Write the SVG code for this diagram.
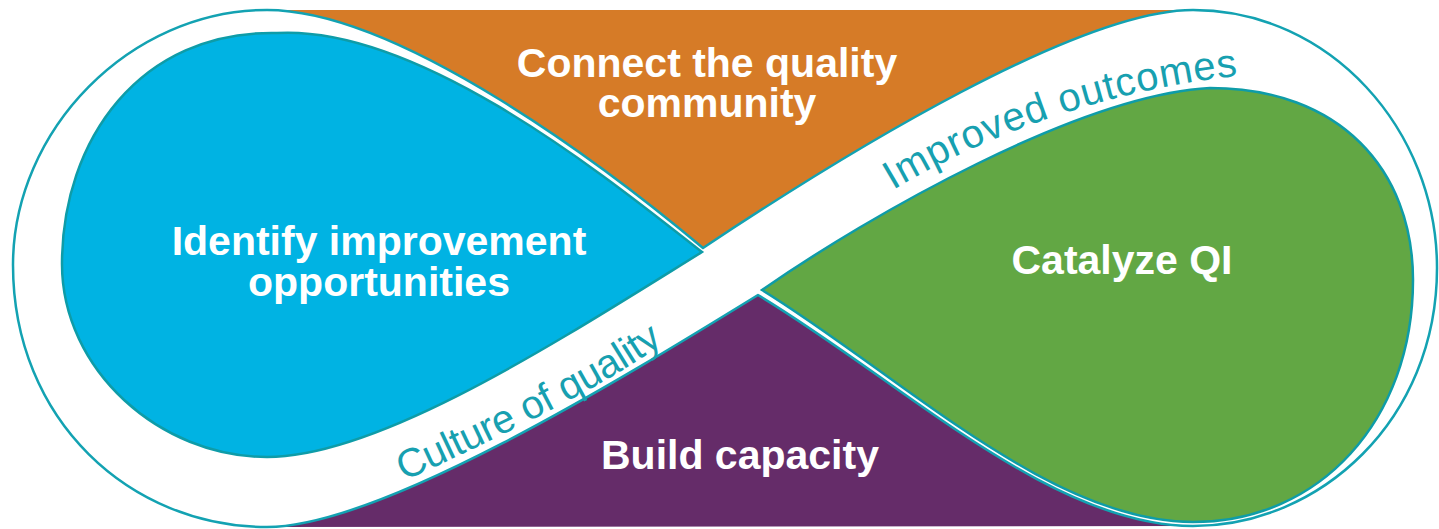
<svg xmlns="http://www.w3.org/2000/svg" width="1439" height="529" viewBox="0 0 1439 529">
<defs>
<style>
.lbl{font-family:"Liberation Sans",Arial,sans-serif;font-weight:bold;font-size:41px;fill:#ffffff;text-anchor:middle}
.rib{font-family:"Liberation Sans",Arial,sans-serif;font-weight:normal;font-size:40px;fill:#17A0B0}
.edge{fill:none;stroke:#13A2B2;stroke-width:2.5;stroke-linejoin:round}
.blob{stroke:#0E9CA8;stroke-width:2.5}
</style>
<path id="pathImproved" d="M 893,190 C 980,138 1110,86 1258,74"/>
<path id="pathCulture" d="M 404,481 C 480,446 600,391 672,337"/>
</defs>
<rect width="1439" height="529" fill="#ffffff"/>
<g id="connect">
<path d="M 703,248 C 610,170 400,10 267,10 L 1193,10 C 1080,10 850,150 703,248 Z" fill="#D67B27"/>
<text class="lbl" x="707" y="77">Connect the quality</text>
<text class="lbl" x="707" y="117">community</text>
</g>
<g id="build">
<path d="M 758,295 C 900,380 1050,526 1193,526 L 267,527 C 380,527 620,380 758,295 Z" fill="#652C69"/>
<text class="lbl" x="740" y="469">Build capacity</text>
</g>
<g id="identify">
<path class="blob" d="M 702,252 C 610,180 420,25 277,33 C 140,30 62,140 62,264 C 62,370 160,457 267,457 C 380,457 560,340 702,252 Z" fill="#00B3E3"/>
<text class="lbl" x="379" y="255">Identify improvement</text>
<text class="lbl" x="379" y="296">opportunities</text>
</g>
<g id="catalyze">
<path class="blob" d="M 762,290 C 870,215 1080,95 1210,88 C 1340,88 1413,170 1413,280 C 1413,420 1320,522 1193,522 C 1050,522 900,375 762,290 Z" fill="#62A744"/>
<text class="lbl" x="1122" y="274">Catalyze QI</text>
</g>
<g id="ribbon">
<path class="edge" d="M 703,248 C 610,170 400,10 267,10 C 130,10 13,130 13,265 C 13,420 130,527 267,527 C 380,527 620,380 758,295 C 900,380 1050,526 1193,526 C 1320,526 1437,420 1437,268 C 1437,130 1330,10 1193,10 C 1080,10 850,150 703,248 Z"/>
<text class="rib"><textPath href="#pathImproved" textLength="366" lengthAdjust="spacing">Improved outcomes</textPath></text>
<text class="rib"><textPath href="#pathCulture" textLength="294" lengthAdjust="spacing">Culture of quality</textPath></text>
</g>
</svg>
